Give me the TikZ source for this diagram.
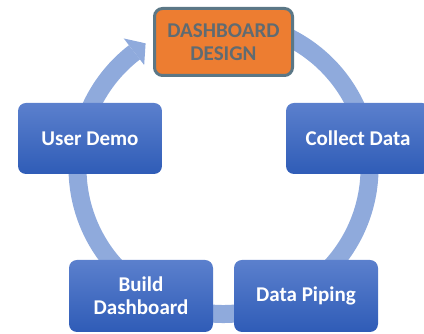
\documentclass[tikz,border=0pt]{standalone}
\usepackage{fontspec}
\setmainfont{Carlito}
\usetikzlibrary{shapes.misc}

\definecolor{ringblue}{HTML}{8FAADC}
\definecolor{boxtop}{HTML}{5B80CD}
\definecolor{boxmid}{HTML}{3E6CC9}
\definecolor{boxbot}{HTML}{2F5CB7}
\definecolor{designfill}{HTML}{ED7D31}
\definecolor{designline}{HTML}{5B7786}
\definecolor{designtext}{HTML}{5F6B72}

\tikzstyle{stepbox} = [rectangle, rounded corners=8pt, minimum width=144pt,
	minimum height=71pt, top color=boxtop, middle color=boxmid,
	bottom color=boxbot, text=white, align=center,
	font=\fontsize{21}{23}\selectfont\bfseries]
\tikzstyle{startbox} = [rectangle, rounded corners=8pt, minimum width=138pt,
	minimum height=67pt, fill=designfill, draw=designline, line width=3pt,
	text=designtext, align=center, font=\fontsize{21}{23}\selectfont\bfseries]
\tikzstyle{ring} = [draw=ringblue, line width=18pt]

\begin{document}
\begin{tikzpicture}[x=1pt,y=1pt]
\useasboundingbox (0,0) rectangle (424,334);
\coordinate (c) at (223.5,166);
% cycle ring with its arrow head
\draw[ring] (c) ++(100:146) arc[start angle=100, end angle=-232.4, radius=146];
\fill[ringblue] (c) ++(127.6:163.5) coordinate (h1)
	(c) ++(127.6:130) coordinate (h2)
	(c) ++(122:147) coordinate (tip);
\fill[ringblue] (h1) -- (tip) -- (h2) -- cycle;
% steps
\node [startbox] (design) at (223.5,292) {DASHBOARD\\DESIGN};
\node [stepbox] (collect) at (358,195.5) {Collect Data};
\node [stepbox, minimum height=72pt] (piping) at (306,38) {Data Piping};
\node [stepbox, minimum height=72pt] (build) at (141,38) {Build\\Dashboard};
\node [stepbox] (demo) at (90,195.5) {User Demo};
\end{tikzpicture}
\end{document}
